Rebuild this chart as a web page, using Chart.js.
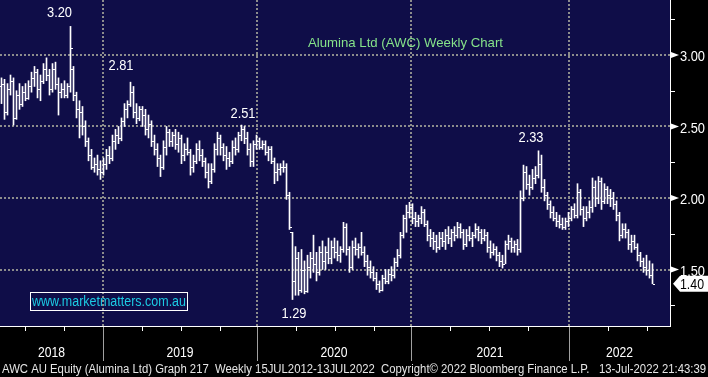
<!DOCTYPE html>
<html><head><meta charset="utf-8">
<script src="https://cdn.jsdelivr.net/npm/chart.js@4.4.0/dist/chart.umd.min.js"></script>
<style>html,body{margin:0;padding:0;background:#000;overflow:hidden}canvas{display:block}</style>
</head><body>
<canvas id="c" width="708" height="377"></canvas>
<script>
// ---- Data (weekly OHLC, AWC AU, ~May 2018 .. 13 Jul 2022) ----
const opens = [
2.78,2.80,2.60,2.76,2.82,2.56,2.72,2.66,2.74,2.70,
2.78,2.84,2.88,2.76,2.82,2.90,2.86,2.76,2.90,2.80,
2.74,2.76,2.72,2.78,2.90,2.72,2.62,2.60,2.50,2.40,
2.30,2.22,2.24,2.20,2.18,2.24,2.30,2.28,2.40,2.44,
2.42,2.54,2.62,2.66,2.74,2.60,2.56,2.62,2.58,2.48,
2.52,2.40,2.34,2.28,2.22,2.36,2.46,2.40,2.44,2.38,
2.42,2.30,2.34,2.32,2.22,2.26,2.34,2.30,2.26,2.18,
2.12,2.20,2.34,2.42,2.36,2.30,2.28,2.26,2.36,2.34,
2.44,2.48,2.42,2.34,2.26,2.38,2.40,2.36,2.38,2.32,
2.34,2.26,2.18,2.20,2.22,2.22,2.02,1.76,1.42,1.58,
1.36,1.50,1.35,1.52,1.58,1.54,1.48,1.62,1.56,1.62,
1.58,1.66,1.62,1.60,1.64,1.80,1.64,1.52,1.66,1.64,
1.66,1.62,1.56,1.52,1.48,1.44,1.40,1.36,1.44,1.42,
1.47,1.46,1.55,1.60,1.74,1.86,1.90,1.94,1.86,1.84,
1.86,1.90,1.82,1.74,1.72,1.70,1.66,1.72,1.70,1.74,
1.72,1.76,1.74,1.80,1.76,1.68,1.74,1.72,1.74,1.78,
1.76,1.72,1.74,1.66,1.62,1.64,1.60,1.56,1.54,1.68,
1.70,1.66,1.68,1.64,2.00,2.18,2.10,2.08,2.14,2.16,
2.24,2.08,2.02,1.96,1.90,1.86,1.84,1.82,1.80,1.84,
1.86,1.92,1.88,2.04,1.92,1.86,1.90,1.94,2.08,2.00,
2.12,1.98,2.06,2.02,2.00,1.96,1.88,1.74,1.78,1.76,
1.68,1.70,1.66,1.60,1.56,1.52,1.50,1.46];
const highs = [
2.84,2.83,2.80,2.86,2.84,2.75,2.80,2.78,2.80,2.82,
2.88,2.92,2.90,2.86,2.94,2.98,2.90,2.94,2.95,2.84,
2.80,2.82,2.80,3.20,2.92,2.74,2.68,2.64,2.54,2.42,
2.34,2.28,2.30,2.26,2.28,2.34,2.36,2.44,2.48,2.50,
2.56,2.66,2.68,2.81,2.78,2.66,2.64,2.64,2.62,2.58,
2.54,2.44,2.38,2.30,2.40,2.50,2.48,2.46,2.48,2.46,
2.44,2.38,2.42,2.34,2.30,2.38,2.40,2.34,2.28,2.24,
2.24,2.38,2.46,2.44,2.38,2.36,2.32,2.40,2.42,2.46,
2.51,2.50,2.46,2.38,2.40,2.44,2.42,2.40,2.40,2.36,
2.36,2.28,2.24,2.24,2.26,2.24,2.04,1.76,1.66,1.62,
1.64,1.56,1.60,1.62,1.74,1.62,1.66,1.70,1.66,1.72,
1.70,1.72,1.70,1.66,1.83,1.82,1.66,1.70,1.72,1.68,
1.76,1.66,1.60,1.56,1.52,1.48,1.42,1.46,1.50,1.50,
1.52,1.58,1.64,1.76,1.88,1.95,1.97,1.96,1.90,1.88,
1.94,1.92,1.84,1.78,1.76,1.74,1.76,1.76,1.78,1.80,
1.78,1.80,1.83,1.82,1.78,1.78,1.80,1.76,1.82,1.80,
1.78,1.78,1.76,1.70,1.68,1.66,1.62,1.60,1.70,1.74,
1.72,1.70,1.71,2.05,2.23,2.22,2.16,2.20,2.22,2.33,
2.30,2.13,2.04,1.98,1.94,1.90,1.88,1.86,1.86,1.90,
1.94,1.96,2.10,2.06,1.94,1.94,1.98,2.14,2.12,2.15,
2.14,2.10,2.08,2.06,2.04,1.98,1.90,1.82,1.82,1.78,
1.74,1.74,1.68,1.62,1.58,1.60,1.56,1.54];
const lows = [
2.66,2.55,2.58,2.72,2.51,2.55,2.62,2.64,2.68,2.69,
2.74,2.78,2.70,2.68,2.80,2.82,2.72,2.74,2.76,2.58,
2.70,2.70,2.70,2.74,2.68,2.56,2.42,2.44,2.36,2.26,
2.20,2.18,2.16,2.13,2.16,2.20,2.24,2.26,2.34,2.38,
2.40,2.50,2.56,2.64,2.56,2.52,2.54,2.50,2.44,2.42,
2.36,2.30,2.22,2.15,2.20,2.30,2.36,2.36,2.34,2.32,
2.24,2.26,2.30,2.16,2.18,2.24,2.26,2.22,2.14,2.07,
2.10,2.18,2.30,2.30,2.26,2.20,2.22,2.24,2.30,2.32,
2.40,2.38,2.30,2.22,2.22,2.34,2.34,2.34,2.30,2.26,
2.24,2.10,2.12,2.16,2.18,1.99,1.78,1.29,1.32,1.32,
1.34,1.33,1.34,1.44,1.48,1.42,1.46,1.50,1.50,1.54,
1.54,1.58,1.56,1.55,1.62,1.60,1.48,1.50,1.60,1.58,
1.60,1.52,1.46,1.44,1.42,1.36,1.34,1.35,1.40,1.40,
1.42,1.44,1.52,1.58,1.72,1.76,1.86,1.82,1.80,1.80,
1.82,1.80,1.70,1.66,1.64,1.62,1.64,1.66,1.64,1.68,
1.66,1.70,1.72,1.72,1.64,1.66,1.70,1.66,1.72,1.70,
1.68,1.70,1.62,1.58,1.60,1.56,1.52,1.51,1.54,1.64,
1.62,1.62,1.60,1.62,1.98,2.06,2.02,2.06,2.10,2.14,
2.04,1.98,1.92,1.86,1.84,1.80,1.79,1.78,1.78,1.80,
1.84,1.86,1.86,1.88,1.80,1.84,1.86,1.90,1.94,1.96,
1.92,1.96,1.96,1.94,1.92,1.84,1.70,1.72,1.72,1.64,
1.62,1.64,1.56,1.52,1.48,1.46,1.44,1.40];
const closes = [
2.80,2.60,2.76,2.82,2.56,2.72,2.66,2.74,2.70,2.78,
2.84,2.88,2.76,2.82,2.90,2.86,2.76,2.90,2.80,2.74,
2.76,2.72,2.78,3.05,2.72,2.62,2.60,2.50,2.40,2.30,
2.22,2.24,2.20,2.18,2.24,2.30,2.28,2.40,2.44,2.42,
2.54,2.62,2.66,2.74,2.60,2.56,2.62,2.58,2.48,2.52,
2.40,2.34,2.28,2.22,2.36,2.46,2.40,2.44,2.38,2.42,
2.30,2.34,2.32,2.22,2.26,2.34,2.30,2.26,2.18,2.12,
2.20,2.34,2.42,2.36,2.30,2.28,2.26,2.36,2.34,2.44,
2.48,2.42,2.34,2.26,2.38,2.40,2.36,2.38,2.32,2.34,
2.26,2.18,2.20,2.22,2.22,2.02,1.80,1.42,1.58,1.36,
1.50,1.35,1.52,1.58,1.54,1.48,1.62,1.56,1.62,1.58,
1.66,1.62,1.60,1.64,1.80,1.64,1.52,1.66,1.64,1.66,
1.62,1.56,1.52,1.48,1.44,1.40,1.36,1.44,1.42,1.47,
1.46,1.55,1.60,1.74,1.86,1.90,1.94,1.86,1.84,1.86,
1.90,1.82,1.74,1.72,1.70,1.66,1.72,1.70,1.74,1.72,
1.76,1.74,1.80,1.76,1.68,1.74,1.72,1.74,1.78,1.76,
1.72,1.74,1.66,1.62,1.64,1.60,1.56,1.54,1.68,1.70,
1.66,1.68,1.64,2.00,2.18,2.10,2.08,2.14,2.16,2.24,
2.08,2.02,1.96,1.90,1.86,1.84,1.82,1.80,1.84,1.86,
1.92,1.88,2.04,1.92,1.86,1.90,1.94,2.08,2.00,2.12,
1.98,2.06,2.02,2.00,1.96,1.88,1.74,1.78,1.76,1.68,
1.70,1.66,1.60,1.56,1.52,1.50,1.46,1.40];

const yearLabels = ['2018','2019','2020','2021','2022'];
const yearStarts = [33.83, 85.17, 136.5, 189.17];          // week index of 1 Jan 2019..2022
const quarterTicks = [7.8,20.8,46.8,59.8,72.8,98.2,111.2,124.2,149.5,162.5,175.5,202.2,215.2];
const priceTicks = [1.50, 2.00, 2.50, 3.00];
const minorPriceTicks = [1.25, 1.75, 2.25, 2.75, 3.25];
const peakIndex = [23, 43, 80, 179, 97];
const peakValue = [3.20, 2.81, 2.51, 2.33, 1.29];
const lastPrice = 1.40;
const titleText = 'Alumina Ltd (AWC) Weekly Chart';
const siteText = 'www.marketmatters.com.au';
const footerText = 'AWC AU Equity (Alumina Ltd) Graph 217  Weekly 15JUL2012-13JUL2022  Copyright\u00a9 2022 Bloomberg Finance L.P.   13-Jul-2022 21:43:39';

// ---- drawing ----
const NAVY = '#0f0d48';
const F = '"Liberation Sans", Arial, sans-serif';
function fitText(ctx, text, x, y, w, align) {
  const m = ctx.measureText(text).width;
  const s = w / m;
  ctx.save();
  let left = x;
  if (align === 'center') left = x - w / 2;
  else if (align === 'right') left = x - w;
  ctx.translate(left, y);
  ctx.scale(s, 1);
  ctx.textAlign = 'left';
  ctx.fillText(text, 0, 0);
  ctx.restore();
}

const bbg = {
  id: 'bbg',
  beforeDraw(chart) {
    const {ctx, chartArea: a, scales: {x: xs, y: ys}} = chart;
    ctx.save();
    ctx.fillStyle = '#000';
    ctx.fillRect(0, 0, chart.width, chart.height);
    ctx.fillStyle = NAVY;
    ctx.fillRect(a.left, a.top, a.right - a.left, a.bottom - a.top);
    ctx.strokeStyle = '#8c8c8c';
    ctx.lineWidth = 2;
    ctx.setLineDash([2, 2]);
    priceTicks.forEach(v => {
      const y = Math.round(ys.getPixelForValue(v));
      ctx.beginPath(); ctx.moveTo(a.left, y); ctx.lineTo(a.right, y); ctx.stroke();
    });
    yearStarts.forEach(v => {
      const x = Math.round(xs.getPixelForValue(v));
      ctx.beginPath(); ctx.moveTo(x, a.top); ctx.lineTo(x, a.bottom); ctx.stroke();
    });
    ctx.restore();
  },
  afterDatasetsDraw(chart) {
    const {ctx, scales: {x: xs, y: ys}} = chart;
    ctx.save();
    ctx.fillStyle = '#ffffff';
    for (let i = 0; i < closes.length; i++) {
      const x = Math.floor(xs.getPixelForValue(i));
      const yo = Math.round(ys.getPixelForValue(opens[i]));
      const yc = Math.round(ys.getPixelForValue(closes[i]));
      ctx.fillRect(x - 2, yo, 2, 1);
      ctx.fillRect(x + 1, yc, 2, 1);
    }
    ctx.restore();
  },
  afterDraw(chart) {
    const {ctx, chartArea: a, scales: {x: xs, y: ys}} = chart;
    ctx.save();
    // axes lines
    ctx.fillStyle = '#ffffff';
    ctx.fillRect(a.right, 0, 1, a.bottom + 1);
    ctx.fillRect(0, a.bottom, a.right + 1, 1);
    // minor ticks right
    minorPriceTicks.forEach(v => {
      const y = Math.round(ys.getPixelForValue(v));
      ctx.fillRect(a.right + 1, y, 4, 1);
    });
    // major markers + labels
    ctx.font = '15px ' + F;
    priceTicks.forEach(v => {
      const y = ys.getPixelForValue(v);
      ctx.fillStyle = '#ffffff';
      ctx.beginPath();
      ctx.moveTo(a.right + 1, y - 3); ctx.lineTo(a.right + 9, y); ctx.lineTo(a.right + 1, y + 3);
      ctx.closePath(); ctx.fill();
      fitText(ctx, v.toFixed(2), a.right + 10, y + 6.5, 25, 'left');
    });
    // last price box
    const yl = ys.getPixelForValue(lastPrice);
    ctx.fillStyle = '#ffffff';
    ctx.beginPath();
    ctx.moveTo(a.right + 3, yl);
    ctx.lineTo(a.right + 10, yl - 8);
    ctx.lineTo(708, yl - 8);
    ctx.lineTo(708, yl + 8);
    ctx.lineTo(a.right + 10, yl + 8);
    ctx.closePath(); ctx.fill();
    ctx.fillStyle = '#000000';
    ctx.font = '15px ' + F;
    fitText(ctx, lastPrice.toFixed(2), a.right + 10, yl + 5.5, 24, 'left');

    // bottom strip: quarter ticks, year separators, year labels
    ctx.fillStyle = '#ffffff';
    quarterTicks.forEach(v => {
      const x = Math.round(xs.getPixelForValue(v));
      ctx.fillRect(x, a.bottom + 1, 1, 4);
    });
    ctx.fillStyle = '#a0a0a0';
    yearStarts.forEach(v => {
      const x = Math.round(xs.getPixelForValue(v));
      ctx.fillRect(x, a.bottom + 1, 1, 34);
    });
    const bounds = [a.left].concat(yearStarts.map(v => xs.getPixelForValue(v))).concat([a.right]);
    ctx.fillStyle = '#ffffff';
    ctx.font = '15px ' + F;
    yearLabels.forEach((t, k) => {
      const cx = (bounds[k] + bounds[k + 1]) / 2;
      fitText(ctx, t, cx, a.bottom + 31, 27, 'center');
    });
    // footer
    ctx.fillStyle = '#e6e6e6';
    ctx.font = '12px ' + F;
    fitText(ctx, footerText, 2, 373, 704, 'left');

    // title
    ctx.fillStyle = '#86e38a';
    ctx.font = '13px ' + F;
    fitText(ctx, titleText, 308, 47, 195, 'left');

    // peak annotations
    const offs = [[-11, -14.5], [-9.5, -17], [1.5, -12.5], [-7.5, -14], [1.5, 13]];
    ctx.fillStyle = '#ffffff';
    ctx.font = '14px ' + F;
    peakIndex.forEach((idx, k) => {
      const x = xs.getPixelForValue(idx) + offs[k][0];
      const y = ys.getPixelForValue(peakValue[k]) + offs[k][1];
      fitText(ctx, peakValue[k].toFixed(2), x, y + 5, 25, 'center');
    });

    // website box
    ctx.strokeStyle = '#ffffff';
    ctx.lineWidth = 1;
    ctx.strokeRect(30.5, 292.5, 157, 18);
    ctx.fillStyle = '#1ccbe3';
    ctx.font = '14px ' + F;
    fitText(ctx, siteText, 109, 306, 154, 'center');
    ctx.restore();
  }
};

const bars = closes.map((c, i) => ({x: i, y: [lows[i], highs[i]]}));

new Chart(document.getElementById('c'), {
  type: 'bar',
  data: {
    datasets: [{
      label: 'AWC',
      data: bars,
      backgroundColor: '#ffffff',
      borderWidth: 0,
      barThickness: 1,
      grouped: false
    }]
  },
  options: {
    responsive: false,
    devicePixelRatio: 1,
    animation: false,
    events: [],
    layout: {padding: {left: 0, top: 0, right: 38, bottom: 51}},
    scales: {
      x: {type: 'linear', min: -0.5, max: 222.8333, offset: false, display: false},
      y: {min: 1.1049, max: 3.3846, display: false}
    },
    plugins: {legend: {display: false}, tooltip: {enabled: false}}
  },
  plugins: [bbg]
});
</script>
</body></html>
